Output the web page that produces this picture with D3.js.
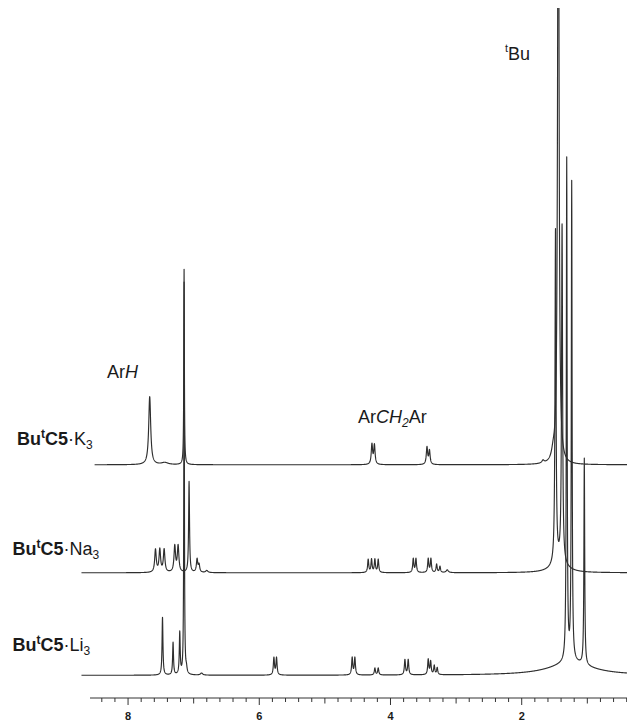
<!DOCTYPE html>
<html>
<head>
<meta charset="utf-8">
<script src="https://cdn.jsdelivr.net/npm/d3@7"></script>
<style>
  body { margin: 0; background: #fff; }
  svg { display: block; }
  text { font-family: "Liberation Sans", Arial, Helvetica, sans-serif; fill: #1a1a1a; }
</style>
</head>
<body>
<div id="draw"></div>
<script>
// peaks: [shift (ppm), height (a.u.), half width (ppm)]
var peaksK = [
	[7.67, 9.9, 0.018], [7.44, 0.3, 0.06], [7.146, 28.4, 0.005],
	[4.283, 2.9, 0.012], [4.245, 2.8, 0.012],
	[3.444, 2.5, 0.012], [3.406, 2.0, 0.012],
	[1.675, 0.4, 0.02], [1.52, 1.2, 0.03], [1.442, 110, 0.012]
];
var peaksNa = [
	[7.582, 3.3, 0.014], [7.516, 3.3, 0.014], [7.45, 3.3, 0.014],
	[7.288, 3.8, 0.014], [7.237, 3.8, 0.014], [7.07, 13.2, 0.008],
	[6.948, 1.9, 0.012], [6.918, 1.1, 0.012], [6.80, 0.3, 0.02],
	[4.340, 1.9, 0.01], [4.289, 1.9, 0.01], [4.238, 1.9, 0.01], [4.187, 1.9, 0.01],
	[3.653, 2.0, 0.01], [3.612, 2.0, 0.01],
	[3.425, 2.0, 0.01], [3.384, 2.0, 0.01],
	[3.297, 1.2, 0.01], [3.246, 0.9, 0.01], [3.135, 0.4, 0.02],
	[1.485, 48.4, 0.009], [1.385, 49.0, 0.009], [1.43, 1.5, 0.12]
];
var peaksLi = [
	[7.475, 8.4, 0.008], [7.314, 4.7, 0.008], [7.212, 6.1, 0.008],
	[7.146, 57, 0.005], [7.11, 0.7, 0.01], [6.88, 0.3, 0.02],
	[5.777, 2.5, 0.01], [5.737, 2.5, 0.01],
	[4.584, 2.5, 0.01], [4.543, 2.5, 0.01],
	[4.238, 1.0, 0.01], [4.187, 1.0, 0.01],
	[3.78, 2.2, 0.01], [3.73, 2.2, 0.01],
	[3.425, 2.2, 0.01], [3.388, 1.9, 0.01], [3.333, 1.3, 0.01], [3.288, 1.0, 0.01],
	[1.314, 73.0, 0.007], [1.238, 69.5, 0.007], [1.046, 30.0, 0.007], [1.25, 1.8, 0.4]
];
var tracePeaks = [peaksK, peaksNa, peaksLi];
var traceMetal = ["K", "Na", "Li"];
var traceOffsets = [33.9, 18.2, 3.3];
var traceStart = [8.51, 8.71, 8.71];
var majorTicks = [8, 6, 4, 2];

var width = 627, height = 720;

var x = d3.scaleLinear().domain([8.58, 0.38]).range([90, 628]);
var y = d3.scaleLinear().domain([0, 100]).range([698, 10]);

var svg = d3.select("#draw").append("svg")
	.attr("width", width)
	.attr("height", height);

svg.append("clipPath").attr("id", "plotclip")
	.append("rect")
	.attr("x", 0).attr("y", 8)
	.attr("width", width).attr("height", height - 8);

function spectrum(peaks, from, to) {
	var pts = [];
	var n = Math.round((from - to) / 0.002);
	for (var i = 0; i <= n; i++) pts.push(from - i * 0.002);
	peaks.forEach(function(p){
		pts.push(p[0]);
		pts.push(p[0] - p[2] * 0.5);
		pts.push(p[0] + p[2] * 0.5);
	});
	pts.sort(d3.descending);
	return pts.map(function(d){
		var s = 0;
		peaks.forEach(function(p){
			var dx = d - p[0];
			s += p[1] * p[2] * p[2] / (p[2] * p[2] + dx * dx);
		});
		return [d, s];
	});
}

var traces = svg.append("g").attr("clip-path", "url(#plotclip)");

tracePeaks.forEach(function(peaks, i){
	var line = d3.line()
		.x(function(d){ return x(d[0]); })
		.y(function(d){ return y(d[1] + traceOffsets[i]); });
	traces.append("path")
		.datum(spectrum(peaks, traceStart[i], 0.38))
		.attr("d", line)
		.attr("fill", "none")
		.attr("stroke", "#2e2e2e")
		.attr("stroke-width", 1.15)
		.attr("stroke-linejoin", "round");
});

// ppm axis
var tickVals = d3.range(2, 43).map(function(i){ return i / 5; });
var axis = svg.append("g");
axis.append("line")
	.attr("x1", x.range()[0]).attr("x2", x.range()[1])
	.attr("y1", 698).attr("y2", 698)
	.attr("stroke", "#333").attr("stroke-width", 1);
axis.selectAll(".tick")
	.data(tickVals)
	.enter()
	.append("line")
	.attr("x1", function(d){ return x(d); })
	.attr("x2", function(d){ return x(d); })
	.attr("y1", 698)
	.attr("y2", function(d){
		var k = Math.round(d * 5);
		if (k % 10 == 0) return 705;
		if (k % 5 == 0) return 703.5;
		return 702;
	})
	.attr("stroke", "#333").attr("stroke-width", 1);
axis.selectAll(".lab")
	.data(majorTicks)
	.enter()
	.append("text")
	.attr("x", function(d){ return x(d); })
	.attr("y", 719.5)
	.attr("text-anchor", "middle")
	.style("font-size", "11px")
	.style("font-weight", "bold")
	.text(function(d){ return d; });

// sample labels  Bu^tC5·M3
var labelPos = [[17, 445], [12.5, 555], [12.5, 651]];
traceMetal.forEach(function(m, i){
	var t = svg.append("text")
		.attr("x", labelPos[i][0])
		.attr("y", labelPos[i][1])
		.style("font-size", "18px");
	t.append("tspan").style("font-weight", "bold").text("Bu");
	t.append("tspan").attr("dy", -7).style("font-weight", "bold").style("font-size", "12px").text("t");
	t.append("tspan").attr("dy", 7).style("font-weight", "bold").text("C5");
	t.append("tspan").text("\u00b7" + m);
	t.append("tspan").attr("dy", 4).style("font-size", "12px").text("3");
});

// peak group annotations
var a1 = svg.append("text").attr("x", 107).attr("y", 378).style("font-size", "18px");
a1.append("tspan").text("Ar");
a1.append("tspan").style("font-style", "italic").text("H");

var a2 = svg.append("text").attr("x", 358).attr("y", 423).style("font-size", "18px");
a2.append("tspan").text("Ar");
a2.append("tspan").style("font-style", "italic").text("CH");
a2.append("tspan").attr("dy", 4).style("font-style", "italic").style("font-size", "12px").text("2");
a2.append("tspan").attr("dy", -4).text("Ar");

var a3 = svg.append("text").attr("x", 505).attr("y", 60).style("font-size", "18px");
a3.append("tspan").attr("dy", -8).style("font-size", "11px").text("t");
a3.append("tspan").attr("dy", 8).text("Bu");
</script>
</body>
</html>
